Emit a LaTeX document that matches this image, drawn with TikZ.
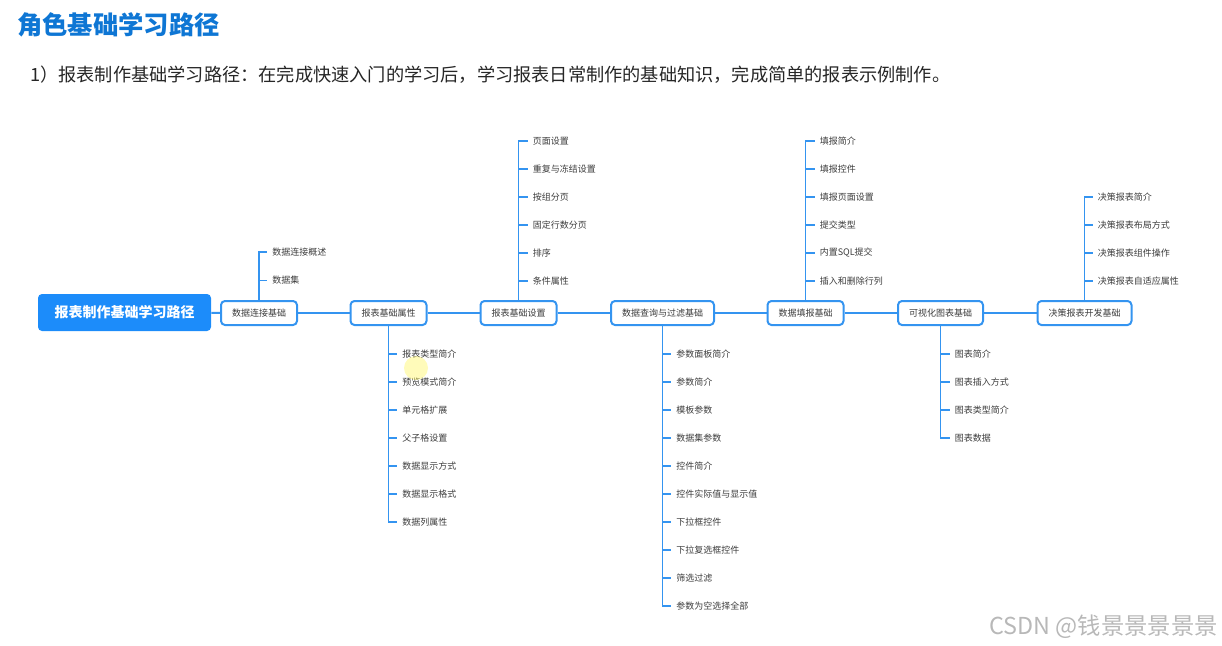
\documentclass[tikz,border=0pt]{standalone}
\usepackage{fontspec}
\setmainfont{Noto Sans CJK SC}
\definecolor{pathblue}{RGB}{52,148,240}
\definecolor{mainblue}{RGB}{28,140,250}
\definecolor{titleblue}{RGB}{14,118,212}
\definecolor{leafgray}{RGB}{60,60,60}
\tikzset{
  stepbox/.style={draw=pathblue, line width=1.5pt, rounded corners=3pt, fill=white,
    inner xsep=8.25pt, inner ysep=0pt, minimum height=18pt,
    font=\fontsize{6.75}{8}\selectfont, text=leafgray},
  rootbox/.style={fill=mainblue, rounded corners=3pt, text=white,
    font=\fontsize{10.5}{12}\selectfont\bfseries,
    minimum width=129.75pt, minimum height=27.75pt},
  leaf/.style={anchor=west, inner xsep=3.75pt, inner ysep=1pt,
    font=\fontsize{6.75}{8}\selectfont, text=leafgray},
  link/.style={pathblue, line width=1.5pt},
  branch/.style={pathblue, line width=1.1pt},
}
\begin{document}
\begin{tikzpicture}[x=0.75pt, y=-0.75pt]
\useasboundingbox (0,0) rectangle (1222,646);

  % Title and intro line
  \node[anchor=west, inner sep=0pt, text=titleblue, font=\fontsize{19}{22}\selectfont\bfseries] (title) at (17,25) {角色基础学习路径};
  \node[anchor=west, inner sep=0pt, font=\fontsize{13.65}{16}\selectfont, text=black!85] (intro) at (30,75)
    {1）报表制作基础学习路径：在完成快速入门的学习后，学习报表日常制作的基础知识，完成简单的报表示例制作。};

  % Main chain
  \node[rootbox] (root) at (124.5,312.5) {报表制作基础学习路径};
  \node[stepbox] (conn) at (259,313) {数据连接基础};
  \node[stepbox] (attr) at (388.5,313) {报表基础属性};
  \node[stepbox] (setb) at (518.5,313) {报表基础设置};
  \node[stepbox] (query) at (662.5,313) {数据查询与过滤基础};
  \node[stepbox] (fill) at (805.5,313) {数据填报基础};
  \node[stepbox] (chart) at (940.5,313) {可视化图表基础};
  \node[stepbox] (decis) at (1084.5,313) {决策报表开发基础};
  \draw[link] (root) -- (conn);
  \draw[link] (conn) -- (attr);
  \draw[link] (attr) -- (setb);
  \draw[link] (setb) -- (query);
  \draw[link] (query) -- (fill);
  \draw[link] (fill) -- (chart);
  \draw[link] (chart) -- (decis);

  % Branches above
  \foreach \lab [count=\i] in {数据连接概述,数据集} {
    \node[leaf] (conn\i) at (267,{252+(\i-1)*28.5}) {\lab};
    \draw[branch] (conn.north) |- (conn\i.west);
  }
  \foreach \lab [count=\i] in {页面设置,重复与冻结设置,按组分页,固定行数分页,排序,条件属性} {
    \node[leaf] (setb\i) at (527.5,{141+(\i-1)*28}) {\lab};
    \draw[branch] (setb.north) |- (setb\i.west);
  }
  \foreach \lab [count=\i] in {填报简介,填报控件,填报页面设置,提交类型,内置SQL提交,插入和删除行列} {
    \node[leaf] (fill\i) at (814.5,{141+(\i-1)*28}) {\lab};
    \draw[branch] (fill.north) |- (fill\i.west);
  }
  \foreach \lab [count=\i] in {决策报表简介,决策报表布局方式,决策报表组件操作,决策报表自适应属性} {
    \node[leaf] (decis\i) at (1092.5,{197+(\i-1)*28}) {\lab};
    \draw[branch] (decis.north) |- (decis\i.west);
  }

  % Branches below
  \foreach \lab [count=\i] in {报表类型简介,预览模式简介,单元格扩展,父子格设置,数据显示方式,数据显示格式,数据列属性} {
    \node[leaf] (attr\i) at (397,{354+(\i-1)*28}) {\lab};
    \draw[branch] (attr.south) |- (attr\i.west);
  }
  \foreach \lab [count=\i] in {参数面板简介,参数简介,模板参数,数据集参数,控件简介,控件实际值与显示值,下拉框控件,下拉复选框控件,筛选过滤,参数为空选择全部} {
    \node[leaf] (query\i) at (671,{354+(\i-1)*28}) {\lab};
    \draw[branch] (query.south) |- (query\i.west);
  }
  \foreach \lab [count=\i] in {图表简介,图表插入方式,图表类型简介,图表数据} {
    \node[leaf] (chart\i) at (949.5,{354+(\i-1)*28}) {\lab};
    \draw[branch] (chart.south) |- (chart\i.west);
  }

  % Cursor spot and watermark
  \fill[yellow!60, opacity=0.45] (416,368) circle (9pt);
  \node[anchor=east, inner sep=0pt, text=black!28, font=\fontsize{17.5}{20}\selectfont] (mark) at (1218,627) {CSDN @钱景景景景景};
\end{tikzpicture}
\end{document}
